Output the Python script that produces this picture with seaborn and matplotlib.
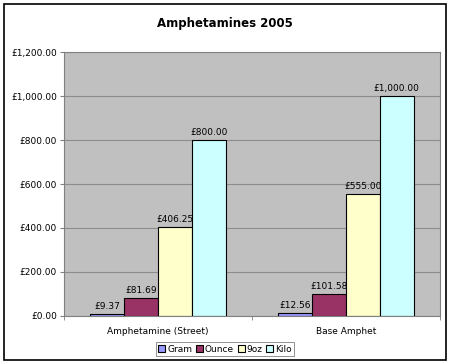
import pandas as pd
import seaborn as sns
import matplotlib.pyplot as plt
from matplotlib.ticker import FuncFormatter, FixedLocator
from matplotlib.patches import Rectangle

categories = ['Amphetamine (Street)', 'Base Amphet']
sizes = ['Gram', 'Ounce', '9oz', 'Kilo']
gram = [9.37, 12.56]
ounce = [81.69, 101.58]
nine_oz = [406.25, 555.00]
kilo = [800.00, 1000.00]
colors = ['#9999FF', '#993366', '#FFFFCC', '#CCFFFF']

rows = []
for size, vals in zip(sizes, [gram, ounce, nine_oz, kilo]):
  for cat, v in zip(categories, vals):
    rows.append({'drug': cat, 'size': size, 'price': v})
df = pd.DataFrame(rows)

sns.set_style('white')
plt.rcParams['font.family'] = ['DejaVu Sans']
plt.rcParams['text.color'] = 'black'
plt.rcParams['xtick.color'] = 'black'
plt.rcParams['ytick.color'] = 'black'

fig = plt.figure(figsize=(4.5, 3.64), dpi=100)
ax = fig.add_axes([0.142, 0.132, 0.836, 0.725])
ax.set_facecolor('#C0C0C0')

sns.barplot(
  data=df, x='drug', y='price', hue='size',
  hue_order=sizes, order=categories,
  palette=colors, saturation=1, width=0.72, gap=0,
  edgecolor='black', linewidth=0.8,
  ax=ax
)

fmt = lambda v: '£{:,.2f}'.format(v)
for c in ax.containers:
  ax.bar_label(c, labels=[fmt(v) for v in c.datavalues], padding=2,
               fontsize=6.5, color='black')

ax.set_ylim(0, 1200)
ax.set_xlim(-0.5, 1.5)
ax.yaxis.set_major_locator(FixedLocator([0, 200, 400, 600, 800, 1000, 1200]))
ax.yaxis.set_major_formatter(FuncFormatter(lambda v, p: fmt(v)))
ax.grid(axis='y', color='#8C8C8C', linewidth=0.8)
ax.set_axisbelow(True)
for s in ax.spines.values():
  s.set_color('#808080')
  s.set_linewidth(0.8)
ax.tick_params(axis='y', labelsize=6.5, length=3, color='#808080', labelcolor='black', left=True, pad=2)
ax.tick_params(axis='x', labelsize=6.5, length=0, labelcolor='black', pad=8)
ax.set_xticks([-0.5, 0.5, 1.5], minor=True)
ax.tick_params(axis='x', which='minor', length=3, color='#808080', bottom=True)
ax.set_xlabel('')
ax.set_ylabel('')

ax.legend_.remove()
handles, labels = ax.get_legend_handles_labels()
leg = fig.legend(
  handles, labels, loc='lower center', bbox_to_anchor=(0.5, 0.01),
  ncol=4, fontsize=6.5, fancybox=False, edgecolor='#808080',
  handlelength=0.8, handleheight=0.8, handletextpad=0.2,
  columnspacing=0.4, borderpad=0.25, framealpha=1
)
leg.get_frame().set_linewidth(0.6)

fig.text(0.5, 0.935, 'Amphetamines 2005', ha='center', va='center',
         fontsize=8.5, fontweight='bold', color='black')

fig.patches.append(Rectangle((0.009, 0.011), 0.982, 0.978, transform=fig.transFigure,
                             fill=False, edgecolor='black', linewidth=1.2))

fig.savefig('out.png', dpi=100)
plt.close()
